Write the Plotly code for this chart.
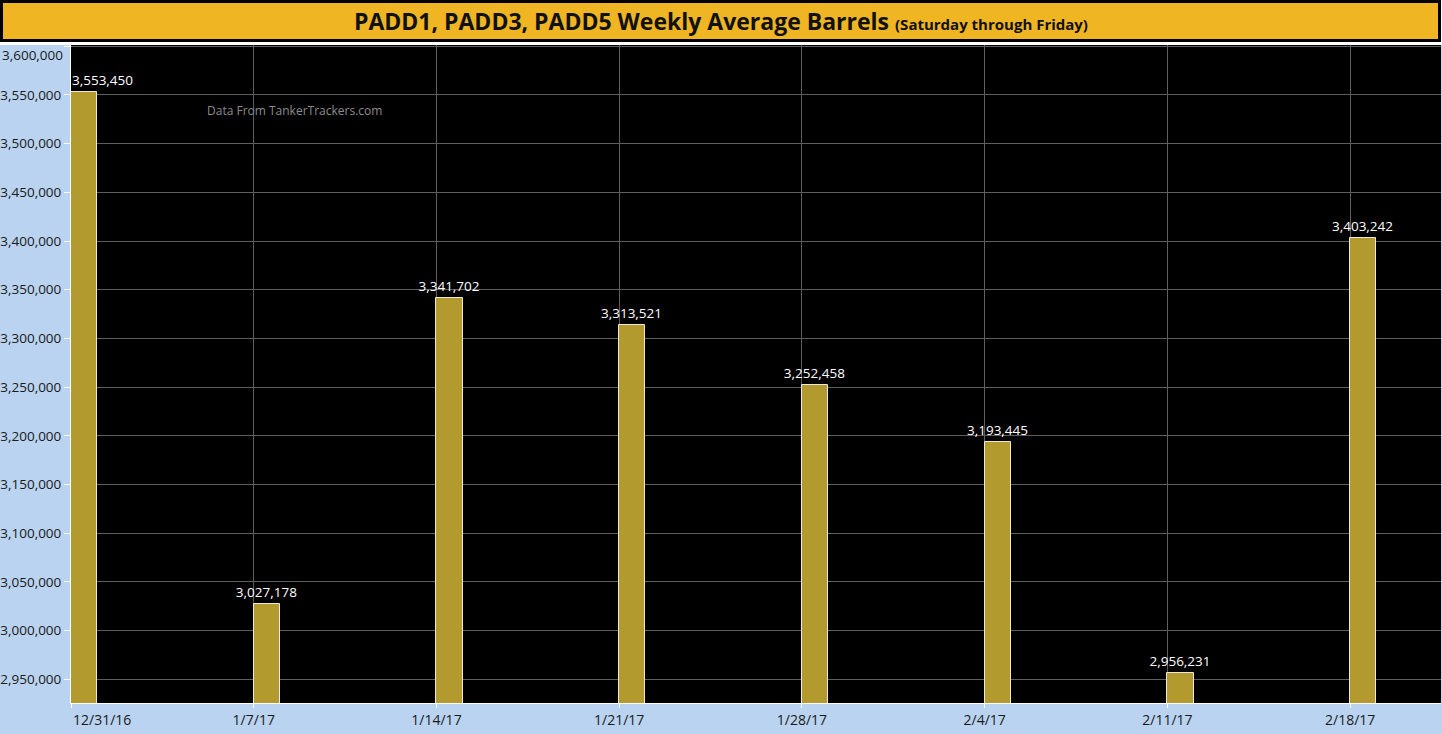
import plotly.graph_objects as go

# weekly averages (week starting Saturday)
weeks = ["2016-12-31", "2017-01-07", "2017-01-14", "2017-01-21",
         "2017-01-28", "2017-02-04", "2017-02-11", "2017-02-18"]
week_labels = ["12/31/16", "1/7/17", "1/14/17", "1/21/17",
               "1/28/17", "2/4/17", "2/11/17", "2/18/17"]
barrels = [3553450, 3027178, 3341702, 3313521, 3252458, 3193445, 2956231, 3403242]
y_ticks = list(range(2950000, 3600001, 50000))

W, H = 1442, 734
L, R, T, B = 71, 1, 45, 31
plot_w = W - L - R
plot_h = H - T - B


def px_x(x):
    return (x - L) / plot_w


def px_y(y):
    return (H - B - y) / plot_h


gold_bar = "#b39a2f"
light_blue = "#b9d3f1"
title_orange = "#efb522"
label_font = dict(family="Open Sans", size=13.5, color="#ffffff")
tick_font = dict(family="Open Sans", size=13.5, color="#1a1a1a")

# first bar/tick sit on the left edge, their labels are pushed inside (done below)
bar_text = [""] + ["%{y:,.0f}"] * (len(barrels) - 1)
tick_text = [""] + week_labels[1:]
y_tick_text = [f"{v:,}" for v in y_ticks[:-1]] + [""]

fig = go.Figure()
fig.add_trace(go.Bar(
    x=weeks,
    y=barrels,
    width=86400000,
    offset=0,
    marker=dict(color=gold_bar, line=dict(color="#ece9d8", width=1)),
    texttemplate=bar_text,
    textposition="outside",
    constraintext="none",
    textfont=label_font,
    cliponaxis=False,
    hoverinfo="skip",
))

fig.update_layout(
    width=W,
    height=H,
    margin=dict(l=L, r=R, t=T, b=B, pad=0),
    paper_bgcolor=light_blue,
    plot_bgcolor="#000000",
    showlegend=False,
    bargap=0,
    font=dict(family="Open Sans", size=13, color="#1a1a1a"),
    xaxis=dict(
        type="date",
        range=["2016-12-31", "2017-02-21 11:30"],
        tickvals=weeks,
        ticktext=tick_text,
        showgrid=True,
        gridcolor="#5e5e5e",
        gridwidth=1,
        showline=True,
        linecolor="#ffffff",
        linewidth=1,
        ticks="outside",
        ticklen=4,
        tickcolor="#ffffff",
        tickfont=dict(tick_font, size=14),
        fixedrange=True,
    ),
    yaxis=dict(
        range=[2925700, 3601300],
        tickvals=y_ticks,
        ticktext=y_tick_text,
        showgrid=True,
        gridcolor="#5e5e5e",
        gridwidth=1,
        showline=True,
        linecolor="#ffffff",
        linewidth=1,
        ticks="outside",
        ticklen=6,
        tickcolor="#ffffff",
        tickfont=tick_font,
        zeroline=False,
        fixedrange=True,
    ),
)

fig.add_annotation(
    x=weeks[0], y=barrels[0], xanchor="left", yanchor="bottom",
    xshift=-1, yshift=1, showarrow=False,
    text=f"{barrels[0]:,}", font=label_font,
)
fig.add_annotation(
    x=weeks[0], xref="x", y=0, yref="paper", xanchor="left", yanchor="top",
    yshift=-5, showarrow=False,
    text=week_labels[0], font=dict(tick_font, size=14),
)
# top y label is kept inside the plot height, like the original
fig.add_annotation(
    x=0, xref="paper", y=y_ticks[-1], yref="y", xanchor="right", yanchor="top",
    xshift=-6, yshift=2, showarrow=False,
    text=f"{y_ticks[-1]:,}", font=tick_font,
)

# title band on top
fig.add_shape(type="rect", xref="paper", yref="paper",
              x0=px_x(0), x1=px_x(W), y0=px_y(T), y1=px_y(0),
              fillcolor="#ffffff", line_width=0, layer="below")
fig.add_shape(type="rect", xref="paper", yref="paper",
              x0=px_x(1.5), x1=px_x(1439.5), y0=px_y(40.5), y1=px_y(1.5),
              fillcolor=title_orange, line=dict(color="#000000", width=3), layer="below")
fig.add_annotation(
    xref="paper", yref="paper", x=px_x(W / 2), y=px_y(21),
    xanchor="center", yanchor="middle", showarrow=False,
    text="<b>PADD1, PADD3, PADD5 Weekly Average Barrels</b> "
         "<b><span style='font-size:15px'>(Saturday through Friday)</span></b>",
    font=dict(family="Open Sans", size=23, color="#111111"),
)
fig.add_annotation(
    xref="paper", yref="paper", x=px_x(294), y=px_y(110),
    xanchor="center", yanchor="middle", showarrow=False,
    text="Data From TankerTrackers.com",
    font=dict(family="Open Sans", size=12, color="#8c8c8c"),
)

# drop the default page margin so the figure sits at the top-left corner
fig.write_html("out.html", config={"displayModeBar": False},
               post_script="document.body.style.margin='0';")
